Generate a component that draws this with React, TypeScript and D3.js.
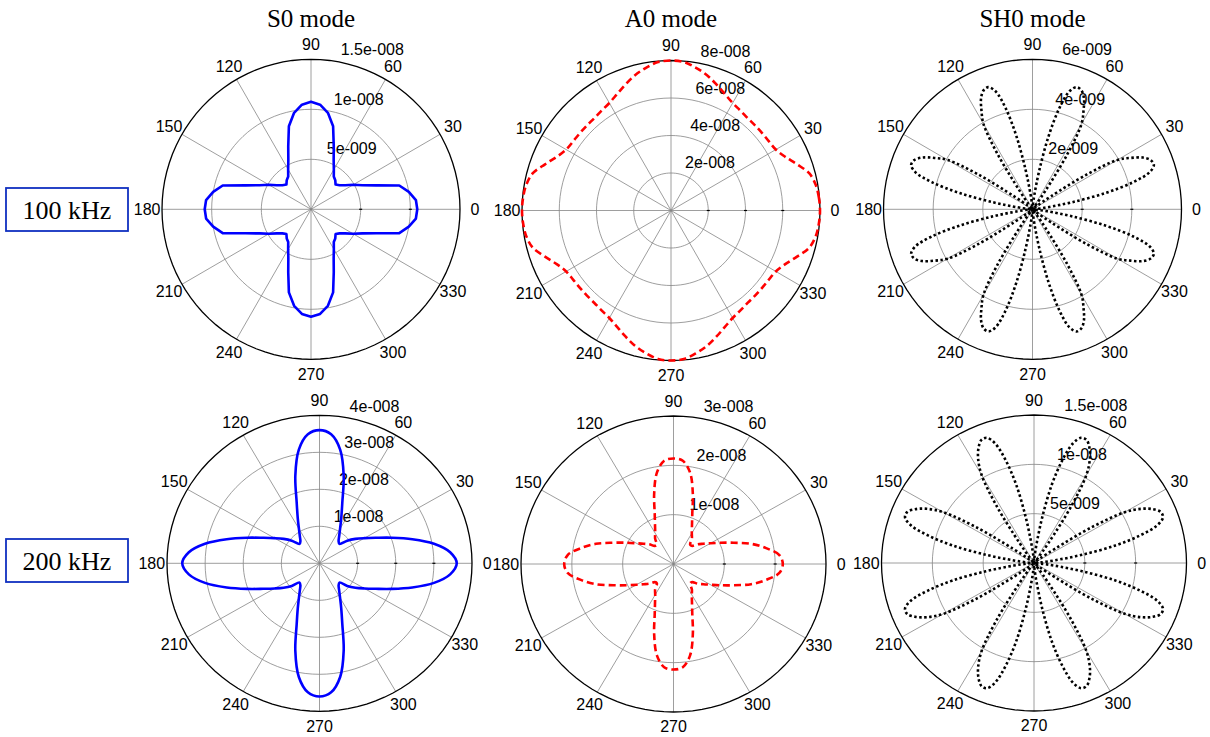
import React from 'react';
import * as d3 from 'd3';

// ---------- data ----------
const QUARTER_ANGLES = [0, 5, 10, 15, 20, 25, 30, 35, 40, 45, 50, 55, 60, 65, 70, 75, 80, 85, 90];
const HALF_QUARTER_ANGLES = [0, 2.5, 5, 7.5, 10, 12.5, 15, 17.5, 20, 22.5, 25, 27.5, 30, 32.5, 35, 37.5, 40, 42.5, 45];

// S0 mode, 100 kHz (m), 0..90 deg
const S0_100 = [10.7e-9, 10.6e-9, 10.0e-9, 9.2e-9, 7.0e-9, 5.7e-9, 4.9e-9, 4.2e-9, 3.75e-9, 3.5e-9, 3.8e-9, 4.0e-9, 4.6e-9, 5.4e-9, 6.7e-9, 8.6e-9, 9.8e-9, 10.5e-9, 10.75e-9];
// A0 mode, 100 kHz
const A0_100 = [8.0e-8, 7.97e-8, 7.89e-8, 7.68e-8, 7.2e-8, 6.77e-8, 6.5e-8, 6.42e-8, 6.4e-8, 6.4e-8, 6.42e-8, 6.5e-8, 6.62e-8, 6.85e-8, 7.15e-8, 7.47e-8, 7.73e-8, 7.95e-8, 8.0e-8];
// SH0 mode, 100 kHz, 0..45 deg
const SH0_100 = [0, 0.03e-9, 0.18e-9, 0.6e-9, 1.6e-9, 3.0e-9, 4.2e-9, 4.95e-9, 5.2e-9, 5.15e-9, 4.9e-9, 4.45e-9, 3.95e-9, 2.6e-9, 0.9e-9, 0.25e-9, 0.06e-9, 0, 0];
// S0 mode, 200 kHz
const S0_200 = [3.6e-8, 3.44e-8, 3.05e-8, 2.52e-8, 2.02e-8, 1.63e-8, 1.36e-8, 1.15e-8, 0.95e-8, 0.74e-8, 0.78e-8, 0.9e-8, 1.08e-8, 1.35e-8, 1.75e-8, 2.45e-8, 3.12e-8, 3.5e-8, 3.6e-8];
// A0 mode, 200 kHz
const A0_200 = [2.15e-8, 2.09e-8, 1.85e-8, 1.58e-8, 1.26e-8, 1.02e-8, 0.84e-8, 0.715e-8, 0.62e-8, 0.52e-8, 0.51e-8, 0.63e-8, 0.72e-8, 0.86e-8, 1.08e-8, 1.47e-8, 1.88e-8, 2.1e-8, 2.14e-8];
// SH0 mode, 200 kHz, 0..45 deg
const SH0_200 = [0, 0.015e-8, 0.07e-8, 0.2e-8, 0.48e-8, 0.82e-8, 1.08e-8, 1.27e-8, 1.35e-8, 1.35e-8, 1.29e-8, 1.19e-8, 1.03e-8, 0.68e-8, 0.25e-8, 0.07e-8, 0.015e-8, 0, 0];

const ANGLE_TICKS = [0, 30, 60, 90, 120, 150, 180, 210, 240, 270, 300, 330];

const RING_S0_100 = [5e-9, 1e-8, 1.5e-8];
const RING_S0_100_LABELS = ['5e-009', '1e-008', '1.5e-008'];
const RING_A0_100 = [2e-8, 4e-8, 6e-8, 8e-8];
const RING_A0_100_LABELS = ['2e-008', '4e-008', '6e-008', '8e-008'];
const RING_SH0_100 = [2e-9, 4e-9, 6e-9];
const RING_SH0_100_LABELS = ['2e-009', '4e-009', '6e-009'];
const RING_S0_200 = [1e-8, 2e-8, 3e-8, 4e-8];
const RING_S0_200_LABELS = ['1e-008', '2e-008', '3e-008', '4e-008'];
const RING_A0_200 = [1e-8, 2e-8, 3e-8];
const RING_A0_200_LABELS = ['1e-008', '2e-008', '3e-008'];
const RING_SH0_200 = [5e-9, 1e-8, 1.5e-8];
const RING_SH0_200_LABELS = ['5e-009', '1e-008', '1.5e-008'];

const MODE_TITLES = ['S0 mode', 'A0 mode', 'SH0 mode'];
const FREQ_LABELS = ['100 kHz', '200 kHz'];

// ---------- helpers ----------
type Pt = [number, number];

function mirrorHalfQuarter(angles: number[], values: number[]): { a: number[]; v: number[] } {
  const a = [...angles];
  const v = [...values];
  for (let i = angles.length - 2; i >= 0; i--) {
    a.push(90 - angles[i]);
    v.push(values[i]);
  }
  return { a, v };
}

function fullCurve(angles: number[], values: number[]): Pt[] {
  const n = angles.length;
  const pts: Pt[] = [];
  for (let i = 0; i < n; i++) pts.push([angles[i], values[i]]);
  for (let i = n - 2; i >= 0; i--) pts.push([180 - angles[i], values[i]]);
  for (let i = 1; i < n; i++) pts.push([180 + angles[i], values[i]]);
  for (let i = n - 2; i >= 1; i--) pts.push([360 - angles[i], values[i]]);
  return pts;
}

const sh100 = mirrorHalfQuarter(HALF_QUARTER_ANGLES, SH0_100);
const sh200 = mirrorHalfQuarter(HALF_QUARTER_ANGLES, SH0_200);

const SANS = "'Liberation Sans', Arial, Helvetica, sans-serif";
const SERIF = "'Liberation Serif', 'Times New Roman', Times, serif";

interface Panel {
  cx: number; cy: number; rx: number; ry: number;
  rings: number[]; ringLabels: string[];
  curve: Pt[]; color: string; dash?: string; linear?: boolean;
}

const TOP_R = { rx: 149, ry: 150 };
const BOT_R = { rx: 152.5, ry: 148 };

const PANELS: Panel[] = [
  { cx: 311, cy: 209.3, ...TOP_R, rings: RING_S0_100, ringLabels: RING_S0_100_LABELS, curve: fullCurve(QUARTER_ANGLES, S0_100), color: '#0000ff', linear: true },
  { cx: 671, cy: 210.5, ...TOP_R, rings: RING_A0_100, ringLabels: RING_A0_100_LABELS, curve: fullCurve(QUARTER_ANGLES, A0_100), color: '#ff0000', dash: '7,4' },
  { cx: 1032.5, cy: 209.3, ...TOP_R, rings: RING_SH0_100, ringLabels: RING_SH0_100_LABELS, curve: fullCurve(sh100.a, sh100.v), color: '#000000', dash: '2.5,2.5' },
  { cx: 319.5, cy: 563.3, ...BOT_R, rings: RING_S0_200, ringLabels: RING_S0_200_LABELS, curve: fullCurve(QUARTER_ANGLES, S0_200), color: '#0000ff' },
  { cx: 673.5, cy: 564, ...BOT_R, rings: RING_A0_200, ringLabels: RING_A0_200_LABELS, curve: fullCurve(QUARTER_ANGLES, A0_200), color: '#ff0000', dash: '7,4' },
  { cx: 1034, cy: 563, ...BOT_R, rings: RING_SH0_200, ringLabels: RING_SH0_200_LABELS, curve: fullCurve(sh200.a, sh200.v), color: '#000000', dash: '2.5,2.5' },
];

const RING_SEGMENTS = d3.range(0, 101).map((i) => (i * 2 * Math.PI) / 100);

function PolarPanel({ p }: { p: Panel }) {
  const rmax = p.rings[p.rings.length - 1];
  const sx = d3.scaleLinear().domain([0, rmax]).range([0, p.rx]);
  const sy = d3.scaleLinear().domain([0, rmax]).range([0, p.ry]);
  const X = (r: number, deg: number) => p.cx + sx(r) * Math.cos((deg * Math.PI) / 180);
  const Y = (r: number, deg: number) => p.cy - sy(r) * Math.sin((deg * Math.PI) / 180);

  const ringPath = (v: number) =>
    d3.line<number>().x((t) => p.cx + sx(v) * Math.cos(t)).y((t) => p.cy - sy(v) * Math.sin(t))(RING_SEGMENTS) || '';

  const curveGen = d3
    .line<Pt>()
    .x((d) => X(d[1], d[0]))
    .y((d) => Y(d[1], d[0]))
    .curve(p.linear ? d3.curveLinearClosed : d3.curveCatmullRomClosed.alpha(0.5));

  const rinc = p.rings[0];
  const c82 = Math.cos((82 * Math.PI) / 180);
  const s82 = Math.sin((82 * Math.PI) / 180);

  return (
    <g>
      {[0, 30, 60, 90, 120, 150].map((a) => (
        <line key={'s' + a} x1={X(rmax, a + 180)} y1={Y(rmax, a + 180)} x2={X(rmax, a)} y2={Y(rmax, a)} stroke="#858585" strokeWidth={0.8} />
      ))}
      {p.rings.slice(0, -1).map((v) => (
        <path key={'r' + v} d={ringPath(v)} fill="none" stroke="#858585" strokeWidth={0.8} />
      ))}
      <path d={ringPath(rmax)} fill="none" stroke="#000" strokeWidth={1.3} />
      {p.rings.slice(0, -1).map((v) => (
        <line key={'t' + v} x1={X(v, 0) - 1.5} x2={X(v, 0) + 1.5} y1={p.cy} y2={p.cy} stroke="#000" strokeWidth={1.2} />
      ))}
      {ANGLE_TICKS.map((a) => (
        <text key={'a' + a} x={X(rmax * 1.1, a)} y={Y(rmax * 1.1, a)} textAnchor="middle" dominantBaseline="central" fontFamily={SANS} fontSize={16} fill="#000">
          {a}
        </text>
      ))}
      {p.rings.map((v, i) => (
        <text key={'l' + v} x={p.cx + sx(v + rinc / 20) * c82 + 8.6} y={p.cy - sy(v + rinc / 20) * s82 - 3.2} fontFamily={SANS} fontSize={16} fill="#000">
          {p.ringLabels[i]}
        </text>
      ))}
      <path d={curveGen(p.curve) || ''} fill="none" stroke={p.color} strokeWidth={2.6} strokeDasharray={p.dash} strokeLinejoin="round" />
    </g>
  );
}

export default function App() {
  return (
    <svg width={1210} height={737} style={{ position: 'absolute', left: 0, top: 0, background: '#fff' }}>
      <rect x={0} y={0} width={1210} height={737} fill="#fff" />
      {MODE_TITLES.map((t, i) => (
        <text key={t} x={PANELS[i].cx} y={27} textAnchor="middle" fontFamily={SERIF} fontSize={25} fill="#000">
          {t}
        </text>
      ))}
      {FREQ_LABELS.map((t, i) => {
        const top = i === 0 ? 188 : 539;
        return (
          <g key={t}>
            <rect x={6} y={top} width={122} height={43} fill="#fff" stroke="#1030c0" strokeWidth={1.8} />
            <text x={67} y={top + 30.5} textAnchor="middle" fontFamily={SERIF} fontSize={26} fill="#000">
              {t}
            </text>
          </g>
        );
      })}
      {PANELS.map((p, i) => (
        <PolarPanel key={i} p={p} />
      ))}
    </svg>
  );
}
